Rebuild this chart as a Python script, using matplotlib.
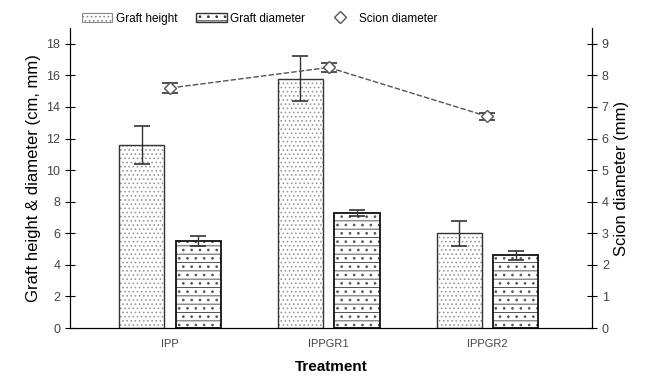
import matplotlib.pyplot as plt
from matplotlib.lines import Line2D
from matplotlib.patches import Patch
import numpy as np

plt.rcParams['font.family'] = ['Liberation Sans', 'DejaVu Sans']
plt.rcParams['hatch.linewidth'] = 0.7

# values
treatments = ['IPP', 'IPPGR1', 'IPPGR2']
graft_height = [11.6, 15.8, 6.0]
graft_height_err = [1.2, 1.45, 0.8]
graft_diameter = [5.5, 7.3, 4.6]
graft_diameter_err = [0.3, 0.2, 0.3]
scion_diameter = [7.6, 8.25, 6.7]
scion_diameter_err = [0.15, 0.15, 0.1]

x = np.arange(len(treatments))
w = 0.285
off = 0.178

fig = plt.figure(figsize=(6.45, 3.83), dpi=100)
ax = fig.add_axes([0.1085, 0.1436, 0.8095, 0.7833])

# hatched fill in grey, then a dark outline on top
ax.bar(x - off, graft_height, w, color='white', edgecolor='#9a9a9a',
       hatch='....', linewidth=0)
ax.bar(x - off, graft_height, w, fill=False, edgecolor='#333333', linewidth=1.0)
ax.bar(x + off, graft_diameter, w, color='white', edgecolor='#555555',
       hatch='--..', linewidth=0)
ax.bar(x + off, graft_diameter, w, fill=False, edgecolor='#111111', linewidth=1.3)
ax.errorbar(x - off, graft_height, yerr=graft_height_err, fmt='none',
            ecolor='#333333', elinewidth=1.0, capsize=6, capthick=1.2)
ax.errorbar(x + off, graft_diameter, yerr=graft_diameter_err, fmt='none',
            ecolor='#333333', elinewidth=1.0, capsize=6, capthick=1.2)

ax.set_xlim(-0.63, 2.66)
ax.set_ylim(0, 19)
ax.set_yticks(range(0, 19, 2))
ax.set_xticks(x)
ax.set_xticklabels(treatments, fontsize=8, color='#444444')
ax.tick_params(axis='y', direction='inout', length=7, labelsize=9,
               labelcolor='#444444')
ax.tick_params(axis='x', length=0, pad=8)
ax.spines['top'].set_visible(False)
ax.set_ylabel('Graft height & diameter (cm, mm)', fontsize=12, labelpad=4)
ax.set_xlabel('Treatment', fontsize=11, fontweight='bold', labelpad=8)

ax2 = ax.twinx()
ax2.set_ylim(0, 9.5)
ax2.set_yticks(range(0, 10))
ax2.errorbar(x, scion_diameter, yerr=scion_diameter_err, color='#555555',
             linestyle='--', dashes=(4, 1.5), linewidth=1.0, marker='D',
             markersize=6, markerfacecolor='white', markeredgecolor='#555555',
             ecolor='#333333', capsize=6, capthick=1.2)
ax2.tick_params(axis='y', direction='inout', length=7, labelsize=9,
                labelcolor='#444444')
ax2.spines['top'].set_visible(False)
ax2.set_ylabel('Scion diameter (mm)', fontsize=12, labelpad=4)

h_height = Patch(facecolor='white', edgecolor='#888888', hatch='....', linewidth=0.8)
h_diam = Patch(facecolor='white', edgecolor='#333333', hatch='--..', linewidth=1.0)
h_scion = Line2D([], [], linestyle='none', marker='D', markersize=6,
                 markerfacecolor='white', markeredgecolor='#555555')
fig.legend([h_height, h_diam, h_scion],
           ['Graft height', 'Graft diameter', 'Scion diameter'],
           loc='upper left', bbox_to_anchor=(0.11, 0.995),
           ncol=3, frameon=False, fontsize=8.5, handlelength=2.6,
           handletextpad=0.3, columnspacing=1.6)

fig.savefig('out.png', dpi=100)
